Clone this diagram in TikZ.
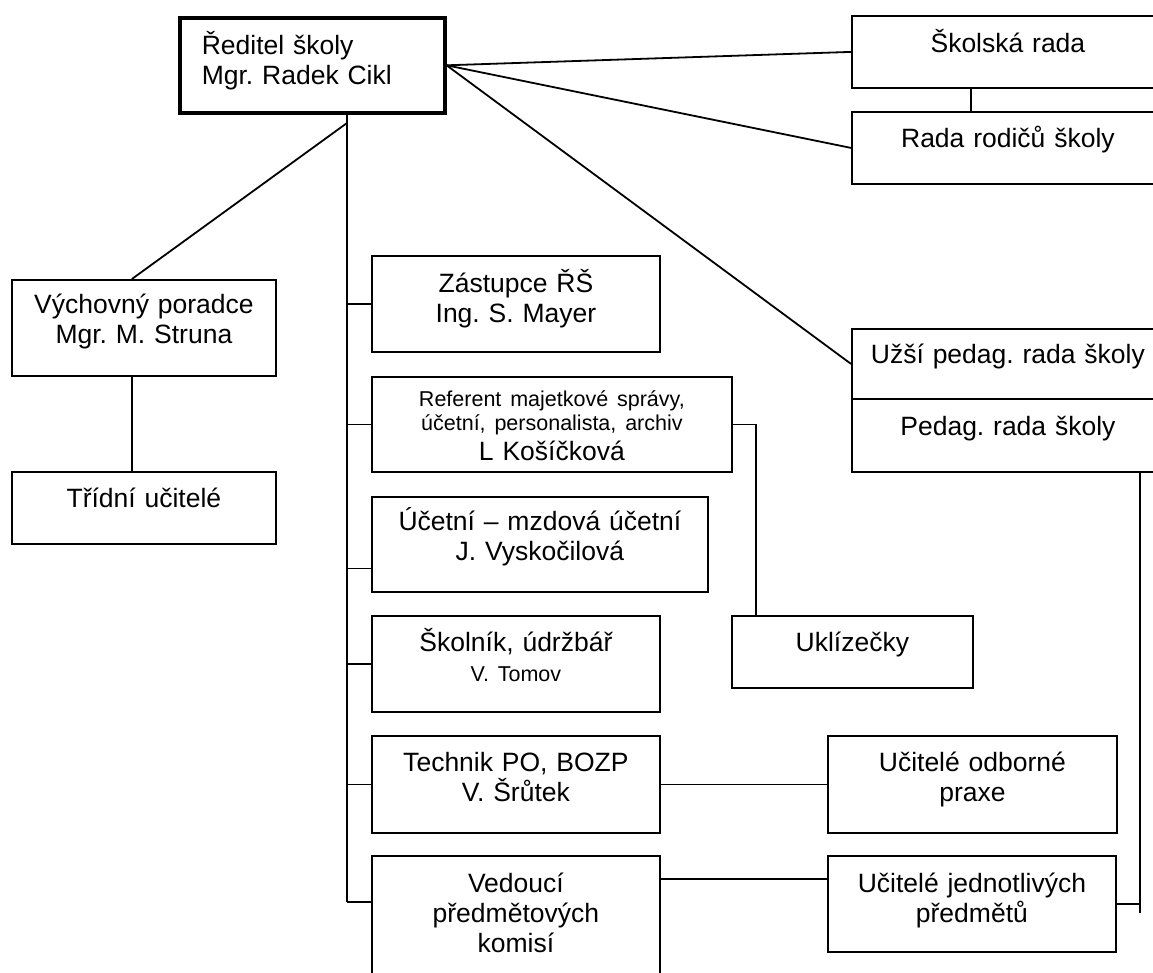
\documentclass[tikz,border=0pt]{standalone}
\usepackage{fontspec}
\setmainfont{Liberation Sans}
\frenchspacing
\newcommand{\txtbig}{\fontsize{26.5}{30}\selectfont}
\newcommand{\txtsmall}{\fontsize{21.5}{24}\selectfont}

\begin{document}
\begin{tikzpicture}
	[x=1pt,y=-1pt,line width=1.8pt]
	\tikzstyle{box}=[draw,anchor=north west,inner sep=0pt,align=center,font=\txtbig]
	\useasboundingbox (0,0) rectangle (1153,972);

	\node[box,line width=3.6pt,align=left,inner xsep=22pt,text width=221pt,text height=37pt,text depth=58pt] (dir) at (178,16) {Ředitel školy\\Mgr. Radek Cikl};
	\node[box,text width=312pt,text height=37pt,text depth=35pt] (skr) at (851,15) {Školská rada};
	\node[box,text width=312pt,text height=36pt,text depth=36pt] (rrs) at (851,111) {Rada rodičů školy};
	\node[box,text width=312pt,text height=35pt,text depth=35pt] (uzs) at (851,328) {Užší pedag. rada školy};
	\node[box,text width=312pt,text height=37pt,text depth=36pt] (ped) at (851,398) {Pedag. rada školy};
	\node[box,text width=264pt,text height=34pt,text depth=62pt] (vp) at (11,279) {Výchovný poradce\\Mgr. M. Struna};
	\node[box,text width=264pt,text height=36pt,text depth=36pt] (tu) at (11,471) {Třídní učitelé};
	\node[box,text width=288pt,text height=37pt,text depth=59pt] (zas) at (371,255) {Zástupce ŘŠ\\Ing. S. Mayer};
	\node[box,text width=360pt,text height=30pt,text depth=65pt] (ref) at (371,376) {\txtsmall Referent majetkové správy,\\účetní, personalista, archiv\\\txtbig L Košíčková};
	\node[box,text width=336pt,text height=34pt,text depth=61pt] (uc) at (371,496) {Účetní -- mzdová účetní\\J. Vyskočilová};
	\node[box,text width=288pt,text height=36pt,text depth=60pt] (skn) at (371,615) {Školník, údržbář\\\fontsize{21.5}{26}\selectfont V. Tomov};
	\node[box,text width=241pt,text height=36pt,text depth=36pt] (ukl) at (731,615) {Uklízečky};
	\node[box,text width=288pt,text height=36pt,text depth=61pt] (tec) at (371,735) {Technik PO, BOZP\\V. Šrůtek};
	\node[box,text width=289pt,text height=36pt,text depth=61pt] (uo) at (827,735) {Učitelé odborné\\praxe};
	\node[box,text width=288pt,text height=37pt,text depth=98pt] (ved) at (371,855) {Vedoucí\\předmětových\\komisí};
	\node[box,text width=288pt,text height=37pt,text depth=59pt] (uj) at (827,855) {Učitelé jednotlivých\\předmětů};

	\coordinate (trunk) at (347,902);
	\coordinate (fork) at (347,123);
	\coordinate (pedend) at (1140,913);

	\draw (dir.east) -- (skr.west);
	\draw (dir.east) -- (rrs.west);
	\draw (dir.east) -- (uzs.west);
	\draw ([xshift=120pt]skr.south west) -- ([xshift=120pt]rrs.north west);
	\draw (dir.south -| trunk) -- (trunk);
	\draw (fork) -- ([xshift=-12pt]vp.north);
	\draw ([xshift=-12pt]vp.south) -- ([xshift=-12pt]tu.north);
	\draw (trunk |- zas.west) -- (zas.west);
	\draw (trunk |- ref.west) -- (ref.west);
	\draw ([yshift=-24pt]uc.west) -- +(-24,0);
	\draw (trunk |- skn.west) -- (skn.west);
	\draw (trunk |- tec.west) -- (tec.west);
	\draw (trunk) -- (trunk -| ved.west);
	\draw (ref.east) -| ([xshift=25pt]ukl.north west);
	\draw (tec.east) -- (uo.west);
	\draw ([yshift=-24pt]ved.north east) -- ([yshift=-24pt]uj.north west);
	\draw (pedend |- ped.south) -- (pedend);
	\draw (uj.east) -- (uj.east -| pedend);
\end{tikzpicture}
\end{document}
